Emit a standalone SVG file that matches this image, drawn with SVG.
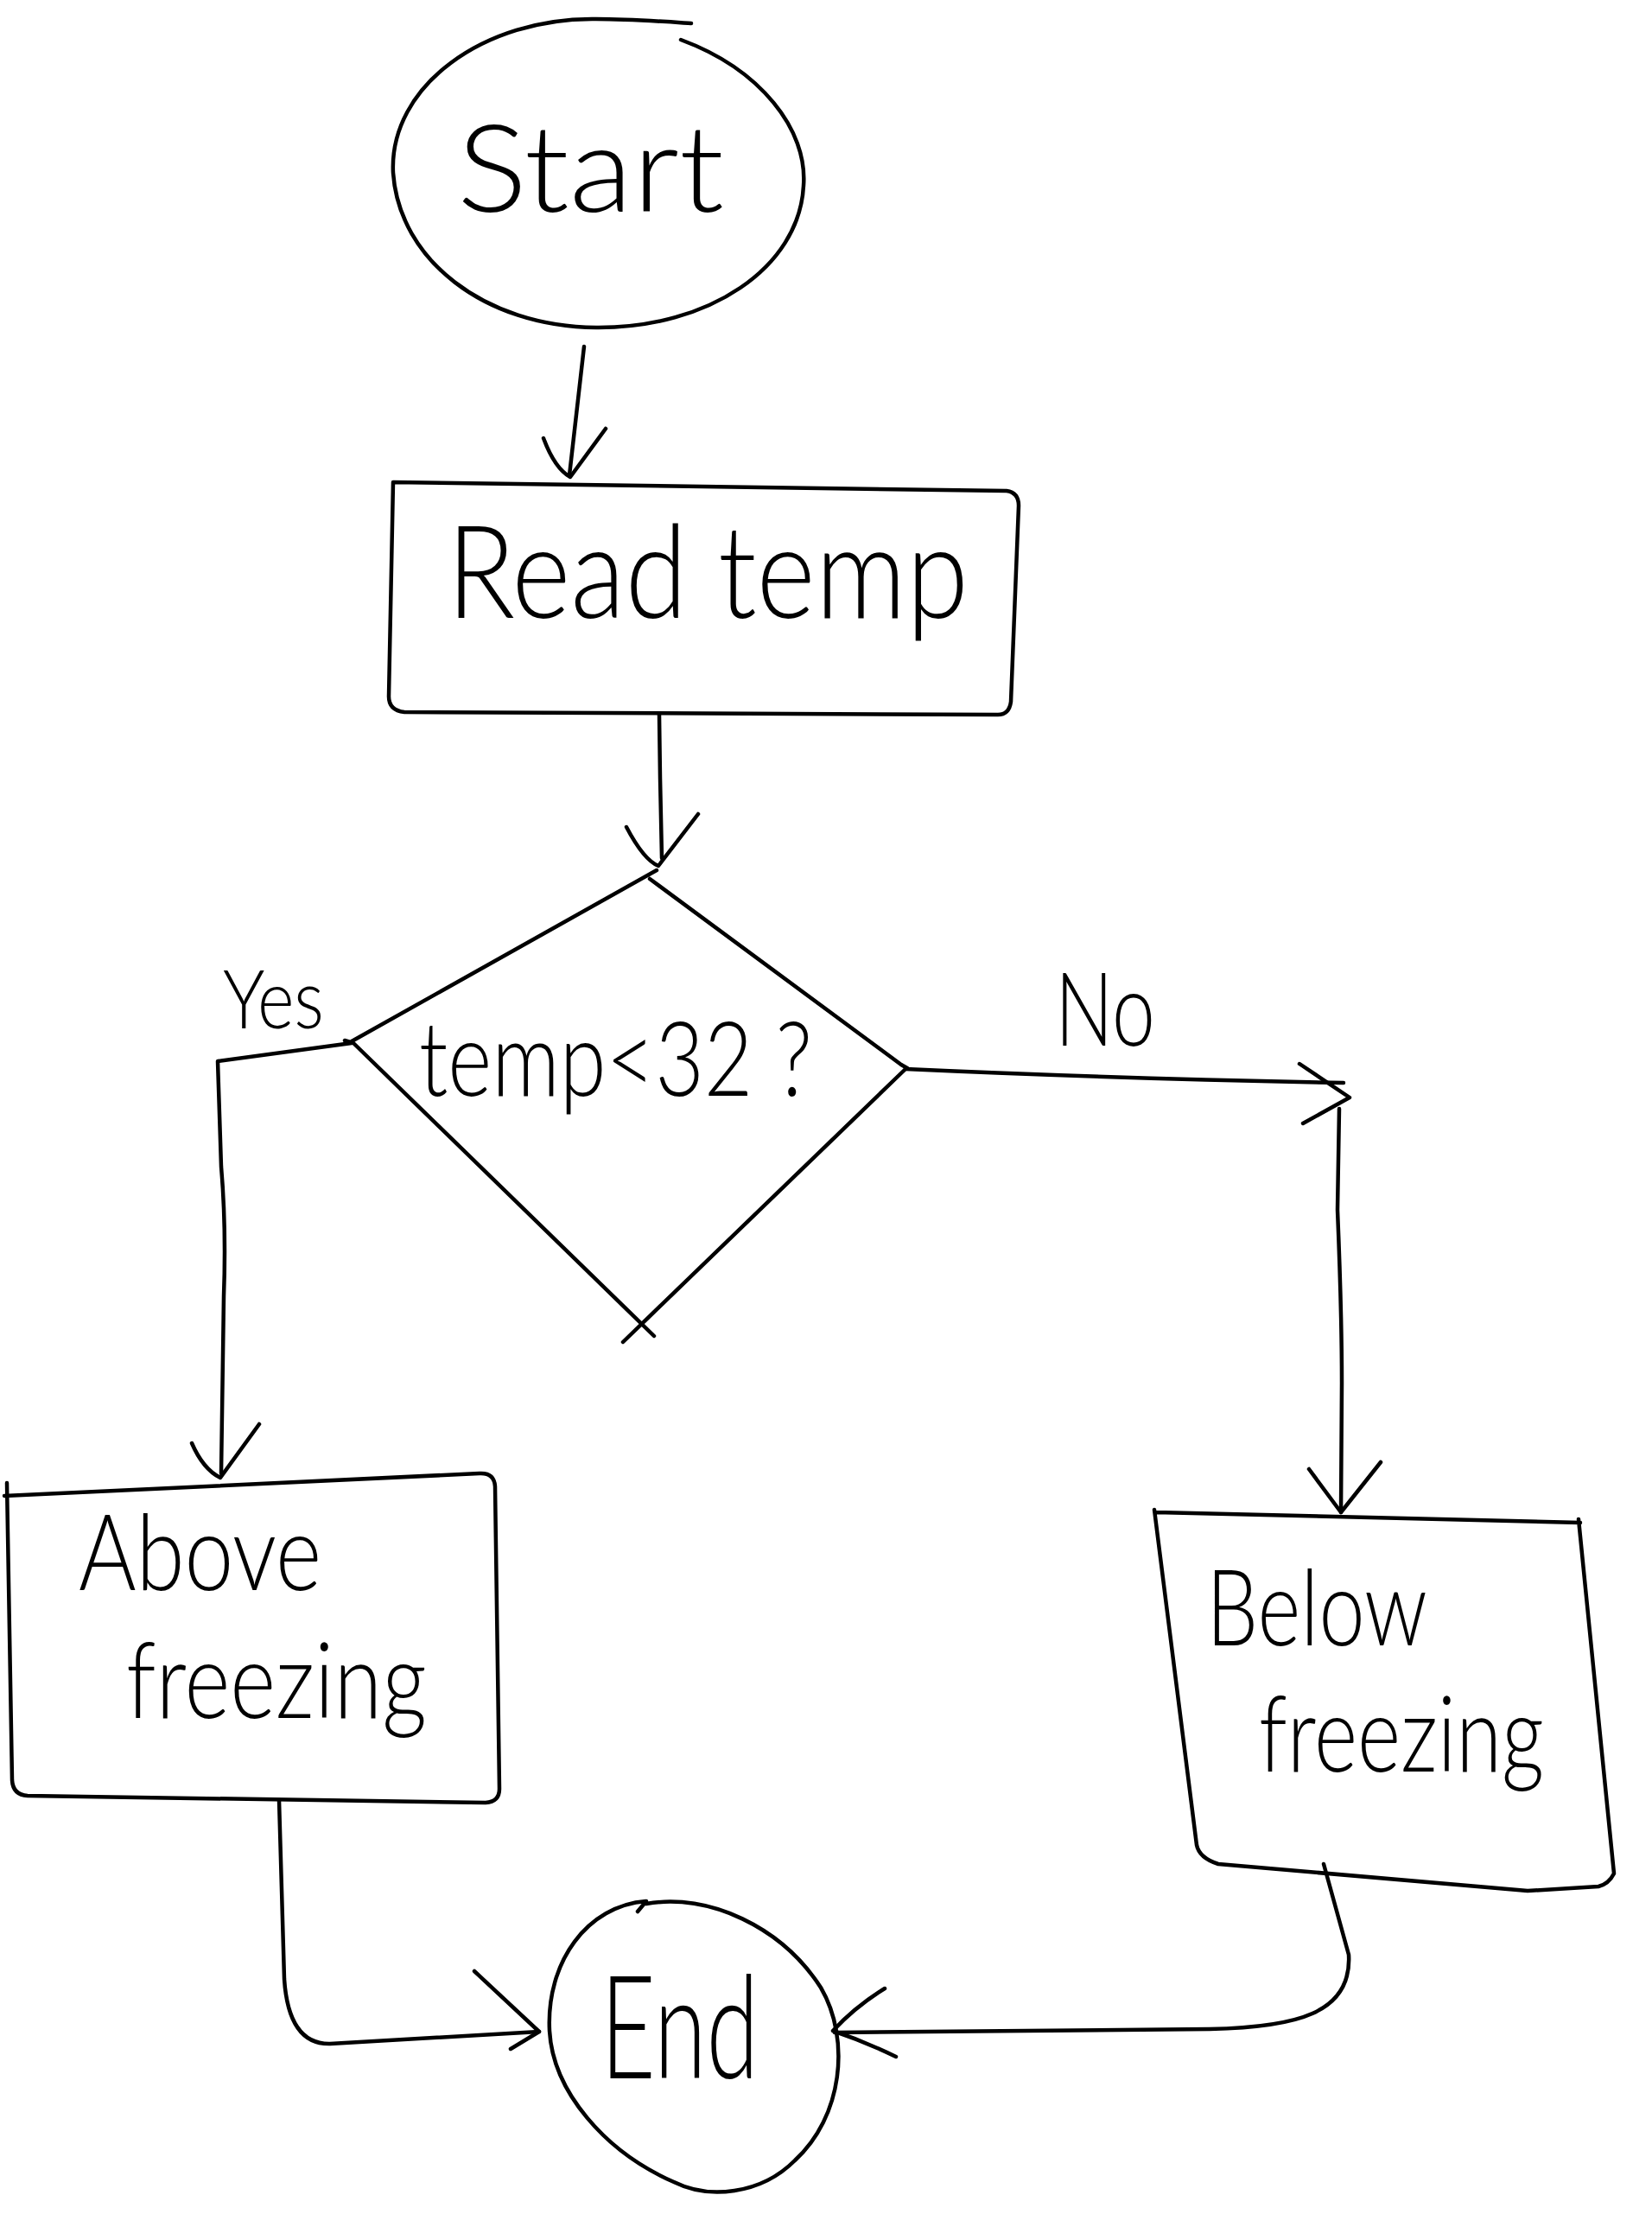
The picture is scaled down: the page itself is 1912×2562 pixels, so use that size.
<svg xmlns="http://www.w3.org/2000/svg" width="1912" height="2562" viewBox="0 0 1912 2562">
<style>
.s{fill:none;stroke:#000;stroke-width:4.5;stroke-linecap:round;stroke-linejoin:round}
.t{font-family:Lato,"Liberation Sans",sans-serif;font-weight:300;fill:#000}
</style>
<rect width="1912" height="2562" fill="#fff"/>
<g id="start">
<path class="s" d="M788 46 C880 80 935 150 930 215 C925 310 820 380 690 379 C560 378 462 300 455 200 C450 100 560 20 690 22 C730 22 770 25 800 27"/>
<text class="t" x="529" y="245" font-size="140" textLength="309" lengthAdjust="spacingAndGlyphs">Start</text>
</g>
<g id="read">
<path class="s" d="M455 558 L1165 568 Q1179 570 1179 585 L1170 812 Q1168 827 1155 827 L468 824 Q450 822 450 806 Z"/>
<text class="t" x="517" y="715" font-size="150" textLength="604" lengthAdjust="spacingAndGlyphs">Read temp</text>
</g>
<g id="decision">
<path class="s" d="M760 1007 L407 1205 M399 1204 L409 1207 L757 1546 M752 1017 L1043 1232 L1050 1236 M1047 1238 L721 1553"/>
<text class="t" x="485" y="1268" font-size="120" textLength="455" lengthAdjust="spacingAndGlyphs">temp&lt;32 ?</text>
</g>
<g id="above">
<path class="s" d="M8 1716 L14 2060 Q15 2077 32 2078 L562 2086 Q578 2085 578 2070 L573 1720 Q572 1704 555 1705 L5 1731"/>
<text class="t" x="91" y="1840" font-size="122" textLength="281" lengthAdjust="spacingAndGlyphs">Above</text>
<text class="t" x="146" y="1988" font-size="122" textLength="348" lengthAdjust="spacingAndGlyphs">freezing</text>
</g>
<g id="below">
<path class="s" d="M1338 1750 L1829 1762 M1827 1758 L1868 2168 Q1862 2180 1850 2183 L1768 2188 L1410 2157 Q1388 2150 1385 2135 L1336 1747"/>
<text class="t" x="1396" y="1904" font-size="122" textLength="256" lengthAdjust="spacingAndGlyphs">Below</text>
<text class="t" x="1457" y="2050" font-size="122" textLength="330" lengthAdjust="spacingAndGlyphs">freezing</text>
</g>
<g id="end">
<path class="s" d="M748 2203 C820 2190 905 2230 950 2300 C985 2360 975 2450 920 2500 C880 2540 820 2545 780 2525 C700 2490 640 2420 636 2350 C632 2270 680 2205 748 2200 L738 2212"/>
<text class="t" x="695" y="2405" font-size="165" textLength="183" lengthAdjust="spacingAndGlyphs">End</text>
</g>
<g id="connectors">
<path class="s" d="M676 401 L659 550"/>
<path class="s" d="M629 507 Q642 542 660 552 L701 496"/>
<path class="s" d="M763 827 L764 900 L766 993"/>
<path class="s" d="M725 957 Q745 995 762 1002 L808 942"/>
<path class="s" d="M407 1207 L252 1228 L256 1350 Q262 1420 259 1500 L256 1705"/>
<path class="s" d="M222 1670 Q235 1700 255 1710 L300 1648"/>
<text class="t" x="258" y="1190" font-size="95" textLength="117" lengthAdjust="spacingAndGlyphs">Yes</text>
<path class="s" d="M1048 1237 C1200 1244 1400 1250 1555 1253"/>
<path class="s" d="M1504 1231 L1562 1270 L1508 1300"/>
<path class="s" d="M1550 1283 L1548 1400 Q1553 1520 1553 1600 L1552 1750"/>
<path class="s" d="M1515 1700 L1552 1750 L1598 1692"/>
<text class="t" x="1221" y="1210" font-size="118" textLength="116" lengthAdjust="spacingAndGlyphs">No</text>
<path class="s" d="M323 2083 L329 2290 Q334 2366 382 2365 L624 2351"/>
<path class="s" d="M549 2281 L624 2351 L591 2371"/>
<path class="s" d="M1532 2157 L1561 2262 C1565 2330 1500 2346 1400 2348 L966 2352"/>
<path class="s" d="M1024 2301 Q990 2322 964 2350 Q1000 2362 1037 2380"/>
</g>
</svg>
